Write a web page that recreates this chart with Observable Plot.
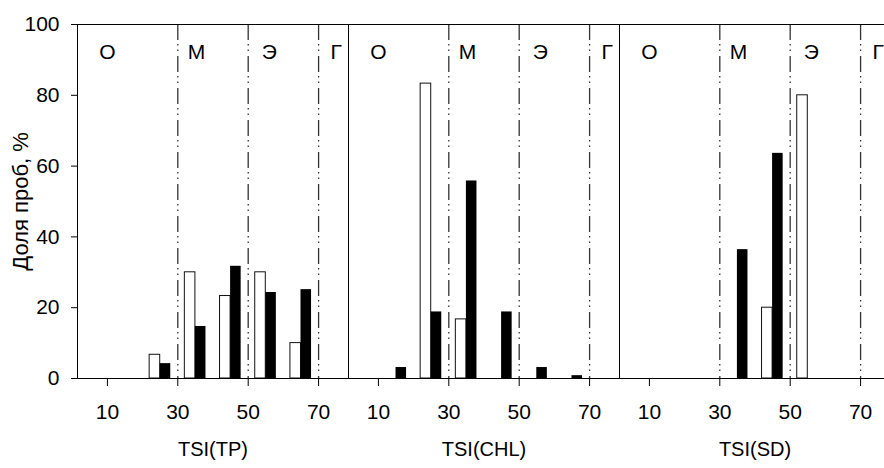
<!DOCTYPE html>
<html><head><meta charset="utf-8">
<script src="https://cdn.jsdelivr.net/npm/d3@7"></script>
<script src="https://cdn.jsdelivr.net/npm/@observablehq/plot@0.6"></script>
<style>
html,body{margin:0;padding:0;background:#fff;overflow:hidden;width:884px;height:468px}
#chart svg{max-width:none}
</style>
</head><body><div id="chart"></div>
<script>
// ---- data ----
const panels = ["TSI(TP)", "TSI(CHL)", "TSI(SD)"];
const binCenters = [15, 25, 35, 45, 55, 65];
const tpOpen    = [0, 6.7, 30.0, 23.3, 30.0, 10.0];
const tpFilled  = [0, 4.2, 14.7, 31.7, 24.3, 25.1];
const chlOpen   = [0, 83.3, 16.7, 0, 0, 0];
const chlFilled = [3.1, 18.8, 55.8, 18.8, 3.1, 0.8];
const sdOpen    = [0, 0, 0, 20.0, 80.0, 0];
const sdFilled  = [0, 0, 36.4, 63.6, 0, 0];
const zoneBounds = [30, 50, 70];
const zoneLabels = ["О", "М", "Э", "Г"];
const zoneLabelX = [10, 35.3, 56, 75];
const xTicks = [10, 30, 50, 70];
const yTicks = [0, 20, 40, 60, 80, 100];
const yLabel = "Доля проб, %";
const titleX = 40;

// ---- tables for the library ----
const series = [[tpOpen, tpFilled], [chlOpen, chlFilled], [sdOpen, sdFilled]];
const halfWidth = 3;
const openRows = [], filledRows = [];
panels.forEach((p, i) => {
  binCenters.forEach((c, j) => {
    const o = series[i][0][j], f = series[i][1][j];
    if (o > 0) openRows.push({panel: p, x1: c - halfWidth, x2: c, y: o});
    if (f > 0) filledRows.push({panel: p, x1: c, x2: c + halfWidth, y: f});
  });
});
const zoneRows = [];
panels.forEach(p => zoneLabels.forEach((t, k) => zoneRows.push({panel: p, label: t, x: zoneLabelX[k]})));
const titleRows = panels.map(p => ({panel: p, label: p, x: titleX}));
const yLabelRows = [{panel: panels[0], label: yLabel, y: 50}];

const chart = Plot.plot({
  width: 891, height: 468,
  marginLeft: 76, marginRight: 0, marginTop: 24, marginBottom: 90,
  style: {fontFamily: "'Liberation Sans', Arial, sans-serif", fontSize: "20px", color: "#000", background: "#fff", maxWidth: "none"},
  fx: {domain: panels, padding: 0, axis: null},
  x: {domain: [1.5, 78.5]},
  y: {domain: [0, 100]},
  marks: [
    Plot.ruleX(zoneBounds, {stroke: "#333", strokeWidth: 1.3, strokeDasharray: "16,4,1.5,4,1.5,5"}),
    Plot.rectY(openRows, {fx: "panel", x1: "x1", x2: "x2", y: "y", fill: "white", stroke: "#111", strokeWidth: 1}),
    Plot.rectY(filledRows, {fx: "panel", x1: "x1", x2: "x2", y: "y", fill: "black"}),
    Plot.frame({stroke: "black", strokeWidth: 1}),
    Plot.axisX({ticks: xTicks, tickSize: 8, tickPadding: 18, label: null, fontSize: 21}),
    Plot.axisY({ticks: yTicks, tickSize: 6, tickPadding: 12, label: null, fontSize: 21}),
    Plot.text(zoneRows, {fx: "panel", x: "x", text: "label", frameAnchor: "top", dy: 20, fontSize: 21}),
    Plot.text(titleRows, {fx: "panel", x: "x", text: "label", frameAnchor: "bottom", dy: 77, fontSize: 20}),
    Plot.text(yLabelRows, {fx: "panel", y: "y", text: "label", frameAnchor: "left", textAnchor: "middle", dx: -57, rotate: -90, fontSize: 22})
  ]
});
document.getElementById("chart").appendChild(chart);
</script>
</body></html>
